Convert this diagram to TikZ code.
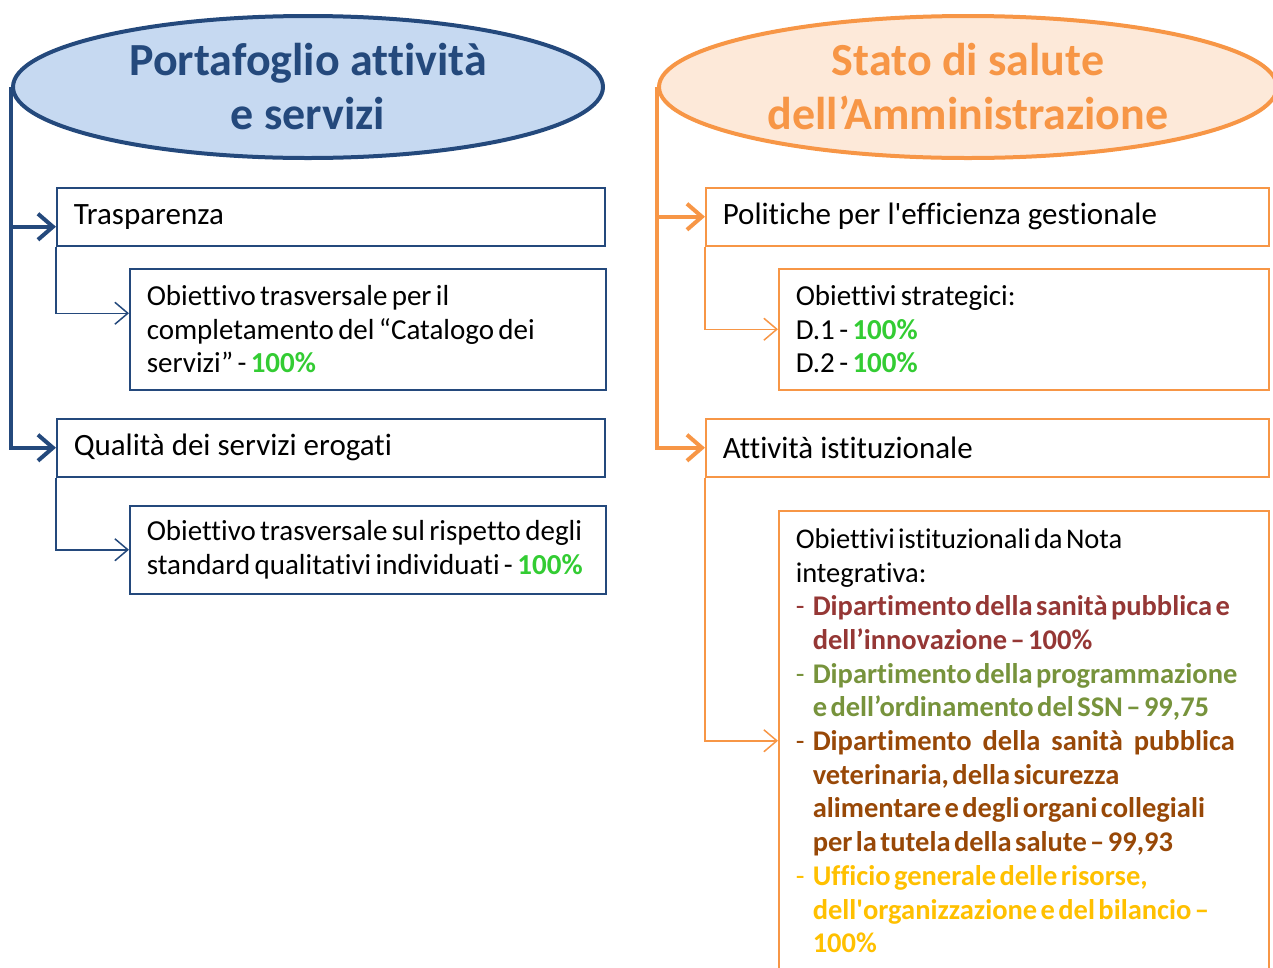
\documentclass[tikz,border=0pt]{standalone}
\usepackage{fontspec}
\setmainfont{Carlito}[Ligatures={TeX,NoCommon}]
\usetikzlibrary{shapes.geometric,arrows.meta}

\definecolor{navyline}{HTML}{24497C}
\definecolor{navyfill}{HTML}{C6D9F1}
\definecolor{orangeline}{HTML}{F79646}
\definecolor{orangefill}{HTML}{FDE9D9}
\definecolor{okgreen}{HTML}{33CC33}
\definecolor{deptred}{HTML}{953735}
\definecolor{deptolive}{HTML}{77933C}
\definecolor{deptbrown}{HTML}{984807}
\definecolor{deptgold}{HTML}{FFC000}

\newcommand{\pct}[1]{\textcolor{okgreen}{\textbf{#1}}}
\newcommand{\dash}{\makebox[17pt][l]{-}}
\newcommand{\hang}{\hspace*{17pt}}
\protected\def\itemspacing{\spaceskip=0.226em plus 0.1em minus 0.07em\relax}
\protected\def\subspacing{\spaceskip=0.15em plus 0.1em minus 0.05em\relax}
\protected\def\notaspacing{\spaceskip=0.12em plus 0.3em minus 0.04em\relax}

\tikzset{
	headnode/.style={ellipse, line width=4pt, inner sep=0pt, minimum height=142pt, align=center,
		font=\fontsize{46}{54}\selectfont\bfseries},
	itembox/.style={draw, line width=1.5pt, anchor=north west, inner xsep=17pt, inner ysep=0pt,
		align=left, font=\fontsize{31}{33.5}\selectfont, execute at begin node=\itemspacing},
	subbox/.style={itembox, font=\fontsize{29}{33.5}\selectfont, execute at begin node=\subspacing},
	mainarrow/.style={line width=4pt, -{Straight Barb[length=15pt,width=26pt]}},
	subarrow/.style={line width=1.5pt, -{Straight Barb[length=13pt,width=22pt]}}
}

\begin{document}
\begin{tikzpicture}[x=1pt, y=-1pt]
	\useasboundingbox (0,0) rectangle (1273,967);
	\clip (0,0) rectangle (1273,967);
	
	% left column
	\node[headnode, draw=navyline, fill=navyfill, text=navyline, minimum width=590pt] (lhead) at (308,87)
		{Portafoglio attività\\e servizi};
	\node[itembox, draw=navyline, text width=514pt, minimum height=58pt] (trasp) at (56,187) {Trasparenza};
	\node[subbox, draw=navyline, text width=442pt, minimum height=121pt] (catal) at (129,268)
		{Obiettivo trasversale per il\\completamento del “Catalogo dei\\servizi” - \pct{100\%}};
	\node[itembox, draw=navyline, text width=514pt, minimum height=58pt] (qual) at (56,418) {Qualità dei servizi erogati};
	\node[subbox, draw=navyline, text width=442pt, minimum height=88pt] (stand) at (129,505)
		{Obiettivo trasversale sul rispetto degli\\standard qualitativi individuati - \pct{100\%}};
	
	\draw[mainarrow, navyline] (lhead.west) |- ([yshift=-10pt]trasp.west);
	\draw[mainarrow, navyline] (lhead.west) |- (qual.west);
	\draw[subarrow, navyline] (trasp.south west) |- ([yshift=16pt]catal.west);
	\draw[subarrow, navyline] (qual.south west) |- (stand.west);
	
	% right column
	\node[headnode, draw=orangeline, fill=orangefill, text=orangeline, minimum width=618pt] (rhead) at (968,87)
		{Stato di salute\\dell’Amministrazione};
	\node[itembox, draw=orangeline, text width=529pt, minimum height=58pt] (polit) at (705,187)
		{Politiche per l\textquotesingle efficienza gestionale};
	\node[subbox, draw=orangeline, text width=456pt, minimum height=121pt] (strat) at (778,268)
		{Obiettivi strategici:\\D.1 - \pct{100\%}\\D.2 - \pct{100\%}};
	\node[itembox, draw=orangeline, text width=529pt, minimum height=58pt] (istit) at (705,418)
		{Attività istituzionale};
	\node[itembox, draw=orangeline, text width=456pt, minimum height=460pt,
		font=\fontsize{28.5}{33.7}\selectfont, execute at begin node=\notaspacing] (nota) at (778,510)
		{Obiettivi istituzionali da Nota\\integrativa:\\
		\textcolor{deptred}{\dash\textbf{Dipartimento della sanità pubblica e}}\\
		\textcolor{deptred}{\hang\textbf{dell’innovazione – 100\%}}\\
		\textcolor{deptolive}{\dash\textbf{Dipartimento della programmazione}}\\
		\textcolor{deptolive}{\hang\textbf{e dell’ordinamento del SSN – 99,75}}\\
		\textcolor{deptbrown}{\dash\makebox[422pt][s]{\textbf{Dipartimento della sanità pubblica}}}\\
		\textcolor{deptbrown}{\hang\textbf{veterinaria, della sicurezza}}\\
		\textcolor{deptbrown}{\hang\textbf{alimentare e degli organi collegiali}}\\
		\textcolor{deptbrown}{\hang\textbf{per la tutela della salute – 99,93}}\\
		\textcolor{deptgold}{\dash\textbf{Ufficio generale delle risorse,}}\\
		\textcolor{deptgold}{\hang\textbf{dell\textquotesingle organizzazione e del bilancio –}}\\
		\textcolor{deptgold}{\hang\textbf{100\%}}};
	
	\draw[mainarrow, orangeline] (rhead.west) |- (polit.west);
	\draw[mainarrow, orangeline] (rhead.west) |- (istit.west);
	\draw[subarrow, orangeline] (polit.south west) |- (strat.west);
	\draw[subarrow, orangeline] (istit.south west) |- (nota.west);
\end{tikzpicture}
\end{document}
